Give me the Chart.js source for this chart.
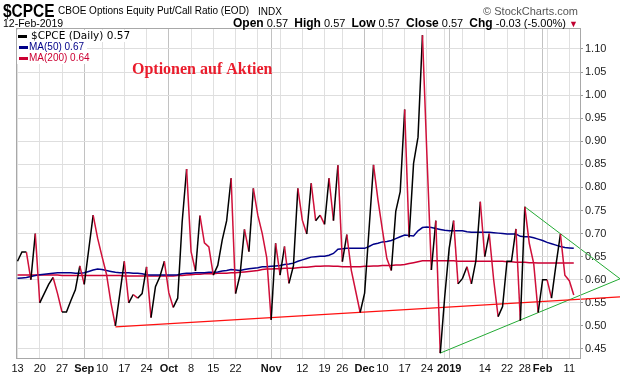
<!DOCTYPE html>
<html>
<head>
<meta charset="utf-8">
<script src="https://cdn.jsdelivr.net/npm/chart.js@4.4.1/dist/chart.umd.min.js"></script>
<style>
  html, body { margin: 0; padding: 0; background: #fff; }
  #wrap { position: relative; width: 620px; height: 376px; font-family: "Liberation Sans", Arial, sans-serif; color: #000; overflow: hidden; }
  #chart { position: absolute; left: 0; top: 0; }
  .hd { position: absolute; white-space: nowrap; line-height: 1; }
  #sym { left: 3px; top: 2px; font-weight: bold; font-size: 18px; transform: scaleX(0.86); transform-origin: left top; }
  #desc { left: 58px; top: 6px; font-size: 10px; }
  #indx { left: 258px; top: 7px; font-size: 10px; }
  #copy { right: 42px; top: 6px; font-size: 11px; color: #555; }
  #date { left: 3px; top: 18px; font-size: 10.5px; }
  #ohlc { right: 42px; top: 17px; font-size: 11px; }
  #ohlc b { font-size: 12px; }
  #ohlc .dn { color: #c00030; font-size: 9px; }
</style>
</head>
<body>
<div id="wrap">
  <canvas id="chart" width="620" height="376"></canvas>
  <div class="hd" id="sym">$CPCE</div>
  <div class="hd" id="desc">CBOE Options Equity Put/Call Ratio (EOD)</div>
  <div class="hd" id="indx">INDX</div>
  <div class="hd" id="copy">© StockCharts.com</div>
  <div class="hd" id="date">12-Feb-2019</div>
  <div class="hd" id="ohlc"><b>Open</b> 0.57 &nbsp;<b>High</b> 0.57 &nbsp;<b>Low</b> 0.57 &nbsp;<b>Close</b> 0.57 &nbsp;<b>Chg</b> -0.03 (-5.00%) <span class="dn">&#9660;</span></div>
</div>
<script>
// daily $CPCE, 13-Aug-2018 .. 12-Feb-2019 (one value per trading day)
const cpce = [
  0.64, 0.66, 0.66, 0.60, 0.70, 0.55, 0.57, 0.59, 0.605, 0.57,
  0.53, 0.53, 0.555, 0.578, 0.63, 0.59, 0.665, 0.74, 0.69, 0.65,
  0.612, 0.55, 0.50, 0.57, 0.64, 0.55, 0.568, 0.56, 0.57, 0.628,
  0.518, 0.585, 0.607, 0.64, 0.572, 0.54, 0.56, 0.725, 0.84, 0.661,
  0.619, 0.739, 0.68, 0.671, 0.61, 0.631, 0.686, 0.728, 0.82, 0.57,
  0.61, 0.709, 0.661, 0.798, 0.74, 0.70, 0.648, 0.513, 0.679, 0.61,
  0.672, 0.592, 0.63, 0.798, 0.729, 0.699, 0.809, 0.728, 0.74, 0.72,
  0.82, 0.728, 0.848, 0.639, 0.698, 0.621, 0.575, 0.529, 0.571, 0.71,
  0.849, 0.773, 0.708, 0.646, 0.62, 0.748, 0.791, 0.969, 0.692, 0.852,
  0.909, 1.13, 0.87, 0.621, 0.728, 0.441, 0.563, 0.668, 0.728, 0.591,
  0.603, 0.628, 0.591, 0.641, 0.769, 0.65, 0.70, 0.60, 0.52, 0.542,
  0.64, 0.64, 0.71, 0.511, 0.758, 0.679, 0.635, 0.529, 0.60, 0.60,
  0.56, 0.632, 0.699, 0.61, 0.598, 0.567
];
const ma50 = [
  0.603, 0.604, 0.605, 0.607, 0.609, 0.611, 0.612, 0.613, 0.614, 0.615,
  0.615, 0.615, 0.615, 0.614, 0.614, 0.615, 0.618, 0.621, 0.623, 0.622,
  0.620, 0.618, 0.616, 0.615, 0.615, 0.615, 0.614, 0.614, 0.613, 0.611,
  0.610, 0.610, 0.610, 0.610, 0.610, 0.610, 0.611, 0.613, 0.614, 0.614,
  0.615, 0.615, 0.615, 0.616, 0.616, 0.617, 0.619, 0.620, 0.622, 0.621,
  0.620, 0.622, 0.624, 0.625, 0.626, 0.628, 0.628, 0.629, 0.630, 0.631,
  0.633, 0.634, 0.636, 0.640, 0.643, 0.646, 0.649, 0.650, 0.651, 0.651,
  0.653, 0.657, 0.666, 0.667, 0.668, 0.668, 0.668, 0.668, 0.668, 0.672,
  0.677, 0.679, 0.682, 0.683, 0.685, 0.689, 0.693, 0.697, 0.696, 0.695,
  0.706, 0.713, 0.714, 0.713, 0.711, 0.709, 0.707, 0.706, 0.706, 0.706,
  0.706, 0.704, 0.703, 0.703, 0.703, 0.703, 0.703, 0.702, 0.701, 0.700,
  0.699, 0.699, 0.699, 0.694, 0.693, 0.693, 0.691, 0.688, 0.685, 0.681,
  0.678, 0.675, 0.672, 0.670, 0.669, 0.668
];
const ma200 = [
  0.610, 0.610, 0.610, 0.610, 0.610, 0.610, 0.610, 0.610, 0.610, 0.610,
  0.609, 0.609, 0.609, 0.609, 0.609, 0.609, 0.609, 0.609, 0.609, 0.609,
  0.609, 0.609, 0.609, 0.609, 0.608, 0.608, 0.608, 0.608, 0.608, 0.608,
  0.608, 0.608, 0.608, 0.608, 0.608, 0.608, 0.609, 0.609, 0.610, 0.611,
  0.612, 0.612, 0.613, 0.613, 0.613, 0.614, 0.614, 0.614, 0.615, 0.615,
  0.616, 0.617, 0.618, 0.619, 0.620, 0.622, 0.623, 0.623, 0.624, 0.624,
  0.625, 0.625, 0.625, 0.626, 0.627, 0.627, 0.628, 0.629, 0.629, 0.630,
  0.630, 0.629, 0.629, 0.628, 0.628, 0.628, 0.628, 0.628, 0.629, 0.629,
  0.630, 0.630, 0.631, 0.631, 0.631, 0.632, 0.632, 0.633, 0.635, 0.637,
  0.639, 0.641, 0.641, 0.641, 0.641, 0.641, 0.641, 0.641, 0.641, 0.640,
  0.640, 0.640, 0.640, 0.640, 0.640, 0.640, 0.640, 0.640, 0.640, 0.640,
  0.639, 0.639, 0.638, 0.638, 0.638, 0.637, 0.637, 0.636, 0.636, 0.636,
  0.636, 0.636, 0.636, 0.636, 0.636, 0.636
];

// x ticks: trading-day index, label ('' = grid line only)
const tickIdx  = [0, 5, 10, 15, 19, 24, 29, 34, 39, 44, 49, 54, 57, 59, 64, 69, 73, 78, 82, 87, 92, 96, 97, 100, 105, 110, 114, 118, 119, 124];
const tickText = ['13', '20', '27', 'Sep', '10', '17', '24', 'Oct', '8', '15', '22', '', 'Nov', '', '12', '19', '26', 'Dec', '10', '17', '24', '', '2019', '', '14', '22', '28', 'Feb', '', '11'];
const monthLabels = ['Sep', 'Oct', 'Nov', 'Dec', '2019', 'Feb'];
const yTicks = [0.45, 0.50, 0.55, 0.60, 0.65, 0.70, 0.75, 0.80, 0.85, 0.90, 0.95, 1.00, 1.05, 1.10];

// hand drawn trend lines [index, value]
const supportLine = [[22, 0.498], [135.4, 0.563]];
const wedgeUpper = [[114, 0.758], [135.4, 0.602]];
const wedgeLower = [[95, 0.441], [135.4, 0.602]];

const UP = '#000000', DOWN = '#d0103a';
const MA50_COL = '#000088', MA200_COL = '#cc0033';

const toXY = arr => arr.map((v, i) => ({x: i, y: v}));
const toPts = arr => arr.map(p => ({x: p[0], y: p[1]}));
const isMonth = i => monthLabels.includes(tickText[i]);

const overlay = {
  id: 'overlay',
  afterDatasetsDraw(chart) {
    const {ctx, chartArea: a} = chart;
    ctx.save();
    // frame
    ctx.strokeStyle = '#a8a8a8';
    ctx.lineWidth = 1;
    ctx.strokeRect(a.left + 0.5, a.top + 0.5, a.right - a.left, a.bottom - a.top);

    // legend rows
    const rows = [
      {text: '$CPCE (Daily) 0.57', color: '#000', font: '10.5px "DejaVu Sans"', y: 36, dx: 18, tx: 31},
      {text: 'MA(50) 0.67', color: MA50_COL, font: '10px "Liberation Sans"', y: 47, dx: 19, tx: 29},
      {text: 'MA(200) 0.64', color: MA200_COL, font: '10px "Liberation Sans"', y: 58, dx: 19, tx: 29}
    ];
    ctx.textBaseline = 'middle';
    rows.forEach(r => {
      ctx.font = r.font;
      const w = ctx.measureText(r.text).width;
      ctx.fillStyle = '#fff';
      ctx.fillRect(a.left + 1, r.y - 6, r.tx + w + 2 - a.left, 12);
      ctx.fillStyle = r.color;
      ctx.fillRect(r.dx, r.y - 1, 9, 3);
      ctx.fillText(r.text, r.tx, r.y + 0.5);
    });

    // annotation
    ctx.font = 'bold 16px "Liberation Serif", "Times New Roman", serif';
    ctx.fillStyle = '#ea1c2c';
    ctx.textBaseline = 'alphabetic';
    ctx.fillText('Optionen auf Aktien', 132, 74);
    ctx.restore();
  }
};

new Chart(document.getElementById('chart'), {
  type: 'line',
  data: {
    datasets: [
      {
        label: '$CPCE (Daily)',
        data: toXY(cpce),
        borderColor: UP,
        borderWidth: 1.5,
        segment: {
          borderColor: c => c.p1.parsed.y < c.p0.parsed.y ? DOWN : UP
        }
      },
      {label: 'MA(50)', data: toXY(ma50), borderColor: MA50_COL, borderWidth: 1.5},
      {label: 'MA(200)', data: toXY(ma200), borderColor: MA200_COL, borderWidth: 1.5},
      {label: 'support', data: toPts(supportLine), borderColor: '#ff1010', borderWidth: 1.3, clip: false},
      {label: 'wedge top', data: toPts(wedgeUpper), borderColor: '#22aa33', borderWidth: 1, clip: false},
      {label: 'wedge bottom', data: toPts(wedgeLower), borderColor: '#22aa33', borderWidth: 1, clip: false}
    ]
  },
  options: {
    responsive: false,
    animation: false,
    devicePixelRatio: 1,
    elements: {point: {radius: 0}, line: {tension: 0}},
    layout: {padding: {left: 16, top: 28, right: 0, bottom: 0}},
    plugins: {legend: {display: false}, tooltip: {enabled: false}},
    scales: {
      x: {
        type: 'linear',
        min: -0.337,
        max: 126.4,
        afterBuildTicks: s => { s.ticks = tickIdx.map(v => ({value: v})); },
        afterFit: s => { s.height = 18; },
        ticks: {
          autoSkip: false,
          maxRotation: 0,
          padding: 4,
          color: '#111',
          callback: (v, i) => tickText[i],
          font: c => ({family: '"Liberation Sans", Arial', size: 11, weight: isMonth(c.index) ? 'bold' : 'normal'})
        },
        grid: {
          drawTicks: false,
          color: c => isMonth(c.index) ? '#c2c2c2' : '#e0e0e0'
        },
        border: {display: false}
      },
      y: {
        type: 'linear',
        position: 'right',
        min: 0.4304,
        max: 1.1455,
        afterBuildTicks: s => { s.ticks = yTicks.map(v => ({value: v})); },
        afterFit: s => { s.width = 40; },
        ticks: {
          padding: 2,
          color: '#222',
          font: {family: '"Liberation Sans", Arial', size: 11},
          callback: v => v.toFixed(2)
        },
        grid: {color: '#dedede', tickLength: 3, tickColor: '#999'},
        border: {display: true, color: '#999'}
      }
    }
  },
  plugins: [overlay]
});
</script>
</body>
</html>
